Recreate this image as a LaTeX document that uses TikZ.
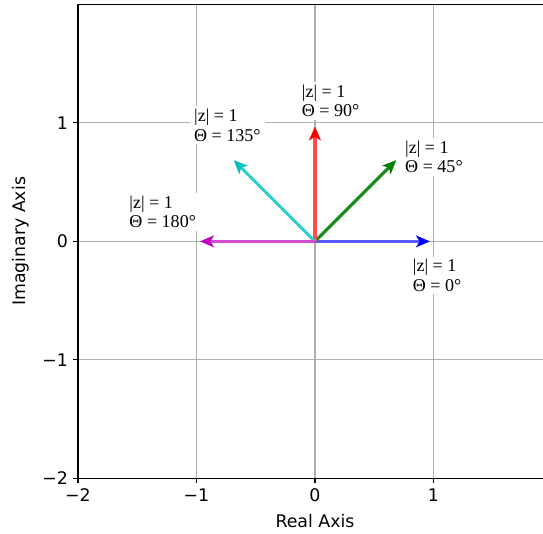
\documentclass[tikz,border=0pt]{standalone}
\usepackage{fontspec}
\setsansfont{DejaVu Sans}
\newfontfamily\annfont{Liberation Serif}
\usetikzlibrary{arrows.meta}
\definecolor{gridgray}{RGB}{176,176,176}
\definecolor{mplblue}{RGB}{0,0,255}
\definecolor{mplgreen}{RGB}{0,128,0}
\definecolor{mplred}{RGB}{255,0,0}
\definecolor{mplcyan}{RGB}{0,191,191}
\definecolor{mplmagenta}{RGB}{191,0,191}

\begin{document}
\begin{tikzpicture}[
  x=3cm, y=3cm,
  gridline/.style={draw=gridgray, line width=0.8pt},
  spine/.style={draw=black, line width=1pt},
  tickmark/.style={draw=black, line width=0.8pt},
  ticklbl/.style={font=\sffamily\fontsize{12.5}{15}\selectfont, inner sep=0pt},
  axislbl/.style={font=\sffamily\fontsize{12.5}{15}\selectfont, inner sep=0pt, anchor=base},
  vec/.style={line width=2.2pt},
  lbl/.style={fill=white, align=left, anchor=south west, inner xsep=3pt, inner ysep=2pt,
              font=\annfont\fontsize{13}{14}\selectfont},
]

% Frame of the picture
\clip (-2.658,-2.461) rectangle (1.924,2.037);

% Grid
\foreach \v in {-1,0,1} {
  \draw[gridline] (\v,-2) -- (\v,2);
  \draw[gridline] (-2,\v) -- (2,\v);
}

% Spines and ticks
\draw[spine] (-2,-2) rectangle (2,2);
\foreach \v in {-2,-1,0,1} {
  \draw[tickmark] (\v,-2) -- ++(0,-3.5pt);
  \draw[tickmark] (-2,\v) -- ++(-3.5pt,0);
}
\node[ticklbl, anchor=north] (xm2) at ([yshift=-7pt]-2,-2) {−2};
\node[ticklbl, anchor=north] (xm1) at ([yshift=-7pt]-1,-2) {−1};
\node[ticklbl, anchor=north] (x0) at ([yshift=-7pt]0,-2) {0};
\node[ticklbl, anchor=north] (x1) at ([yshift=-7pt]1,-2) {1};
\node[ticklbl, anchor=east] (ym2) at ([xshift=-7pt]-2,-2) {−2};
\node[ticklbl, anchor=east] (ym1) at ([xshift=-7pt]-2,-1) {−1};
\node[ticklbl, anchor=east] (y0) at ([xshift=-7pt]-2,0) {0};
\node[ticklbl, anchor=east] (y1) at ([xshift=-7pt]-2,1) {1};

% Axis titles
\node[axislbl] (realax) at (0,-2.41) {Real Axis};
\node[axislbl, rotate=90] (imagax) at (-2.447,0) {Imaginary Axis};

% Phasors
\coordinate (o) at (0,0);
\coordinate (t0) at (0.97,0);
\coordinate (t45) at (0.686,0.686);
\coordinate (t90) at (0,0.97);
\coordinate (t135) at (-0.686,0.686);
\coordinate (t180) at (-0.97,0);

% Labels
\node[lbl] (l90) at (-0.148,1.024) {|z| = 1\\Θ = 90°};
\node[lbl] (l135) at (-1.057,0.818) {|z| = 1\\Θ = 135°};
\node[lbl] (l45) at (0.724,0.551) {|z| = 1\\Θ = 45°};
\node[lbl] (l180) at (-1.603,0.087) {|z| = 1\\Θ = 180°};
\node[lbl] (l0) at (0.789,-0.448) {|z| = 1\\Θ = 0°};

% Arrows
\draw[vec, draw=mplblue!65, -{Stealth[length=10pt, width=8.5pt, inset=2.5pt, color=mplblue]}] (o) -- (t0);
\draw[vec, draw=mplgreen!90, -{Stealth[length=10pt, width=8.5pt, inset=2.5pt, color=mplgreen]}] (o) -- (t45);
\draw[vec, draw=mplred!70, -{Stealth[length=10pt, width=8.5pt, inset=2.5pt, color=mplred]}] (o) -- (t90);
\draw[vec, draw=mplcyan!80, -{Stealth[length=10pt, width=8.5pt, inset=2.5pt, color=mplcyan]}] (o) -- (t135);
\draw[vec, draw=mplmagenta!70, -{Stealth[length=10pt, width=8.5pt, inset=2.5pt, color=mplmagenta]}] (o) -- (t180);
\end{tikzpicture}
\end{document}
